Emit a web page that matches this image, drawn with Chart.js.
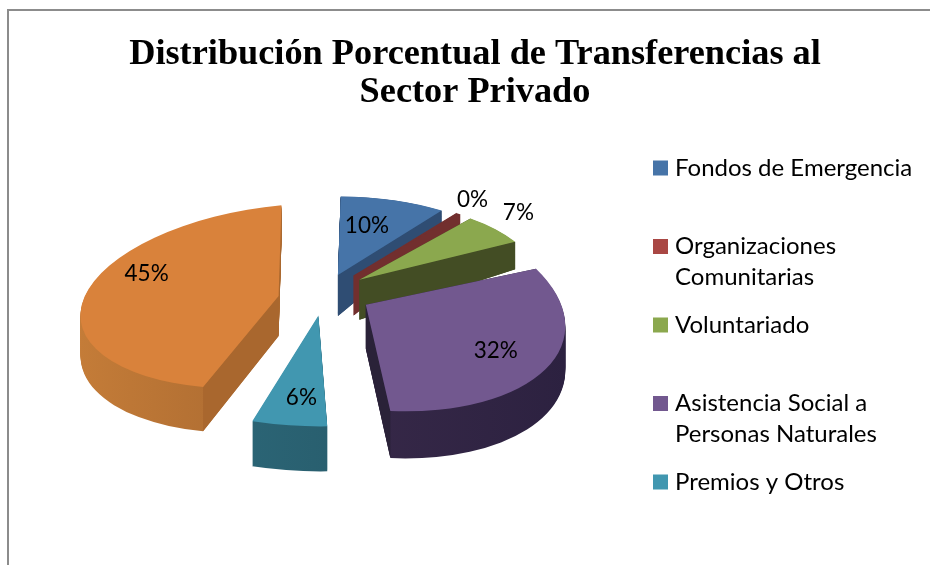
<!DOCTYPE html>
<html><head><meta charset="utf-8">
<script src="https://cdn.jsdelivr.net/npm/chart.js@4"></script>
<style>html,body{margin:0;padding:0;background:#fff}#w{width:930px;height:565px;position:relative;overflow:hidden}canvas{display:block}</style>
</head><body><div id="w"><canvas id="c" width="930" height="565"></canvas></div>
<script>
// data
const categories = ['Fondos de Emergencia','Organizaciones Comunitarias','Voluntariado','Asistencia Social a Personas Naturales','Premios y Otros','Otros'];
const values = [10, 0.4, 7, 32, 6, 45];
const valueLabels = ['10%','0%','7%','32%','6%','45%'];
const legendLines = [['Fondos de Emergencia',''],['Organizaciones','Comunitarias'],['Voluntariado',''],['Asistencia Social a','Personas Naturales'],['Premios y Otros','']];
const titleLines = ['Distribución Porcentual de Transferencias al','Sector Privado'];
// styles
const topColors = ['#4674A8','#A94744','#8BA84E','#72588F','#4197B0','#D9823B'];
const sideLeft  = ['#2F4D73','#722F2E','#434D24','#3E2E4E','#2E6E80','#C47C38'];
const sideRight = ['#2F4D73','#722F2E','#434D24','#2C2140','#24515F','#92592A'];
const faceColors= ['#2F4D73','#722F2E','#434D24','#2A2238','#2B6577','#A9672E'];
const explode = [42,48,45,47,48,47];
const reach   = [181,176,178,199,228,198];
const squash  = [.435,.44,.44,.53,.486,.46];
const shear   = [0,0,0,.07,.01,-.04];
const tilt    = [0,0,0,.07,0,-.08];
const lift    = [0,0,0,0,0,7];
const depth   = [41,40,40,44,45,40];
const grow    = [.33,.33,.33,.03,0,.05];
const showFaces = [1,1,1,1,0,1];
const drawOrder = [5,0,1,2,4,3];
const labelShift = [[29,-49],[119,-76],[159,-67],[130,46],[-17,82],[-132,-22]];

function fixOf(arc){ return 1-Math.sin(Math.min(Math.PI,arc.circumference||0)); }
function apexOf(arc,i){
  const mid=(arc.startAngle+arc.endAngle)/2, o=arc.options.offset/4, alpha=arc.endAngle-arc.startAngle;
  const ins=o*fixOf(arc)/(2*Math.PI*reach[i]);
  return {x:arc.x+Math.cos(mid)*o, y:arc.y+Math.sin(mid)*o*squash[i]+lift[i], mx:Math.cos(mid)*o, my:Math.sin(mid)*o, r:reach[i],
          inset: ins<alpha/4 ? ins : 0};
}
const pie3d = {
  id:'pie3d',
  beforeDraw(chart){
    const c=chart.ctx; c.save(); c.fillStyle='#fff'; c.fillRect(0,0,930,565);
    c.strokeStyle='#8c8c8c'; c.lineWidth=2; c.beginPath(); c.moveTo(8,565); c.lineTo(8,10); c.lineTo(930,10); c.stroke(); c.restore();
  },
  afterLayout(chart){
    const t=chart.titleBlock; t.left=20; t.right=930;
    const l=chart.legend, p=l.options.labels.padding;
    l.left=658-p; l.right=930; l.top=156-p; l.bottom=900;
  },
  afterDatasetsUpdate(chart){
    chart.getDatasetMeta(0).data.forEach((arc,i)=>{
      arc.outerRadius=reach[i]-arc.options.offset/4*fixOf(arc); arc.innerRadius=0;
    });
  },
  beforeDatasetDraw(chart){
    const c=chart.ctx, arcs=chart.getDatasetMeta(0).data;
    drawOrder.forEach(i=>{
      const arc=arcs[i], A=apexOf(arc,i), k=squash[i], sh=shear[i], b=tilt[i], D=depth[i], s=arc.startAngle+A.inset, e=arc.endAngle-A.inset;
      const g=c.createLinearGradient(-A.r,0,A.r,0); g.addColorStop(0,sideLeft[i]); g.addColorStop(1,sideRight[i]);
      for(let d=D;d>=1;d--){
        c.save(); c.translate(A.x,A.y+d); c.transform(1,b,sh,k*(1+grow[i]*d/D),0,0);
        c.fillStyle=g; c.beginPath(); c.moveTo(0,0); c.arc(0,0,A.r,s,e); c.closePath(); c.fill(); c.restore();
      }
      if(showFaces[i]){
        const pt=(ang,d)=>{const kk=k*(1+(d?grow[i]:0)); const X=Math.cos(ang)*A.r,Y=Math.sin(ang)*A.r; return [A.x+X+sh*Y, A.y+d+b*X+kk*Y];};
        c.fillStyle=faceColors[i];
        [s,e].forEach(ang=>{
          const p1=pt(ang,0),p2=pt(ang,D);
          c.beginPath(); c.moveTo(A.x,A.y); c.lineTo(p1[0],p1[1]); c.lineTo(p2[0],p2[1]); c.lineTo(A.x,A.y+D); c.closePath(); c.fill();
        });
      }
      c.save(); c.translate(A.x,A.y); c.transform(1,b,sh,k,0,0); c.translate(-(arc.x+A.mx),-(arc.y+A.my));
      arc.draw(c); c.restore();
    });
    return false;
  },
  afterDatasetsDraw(chart){
    const c=chart.ctx, arcs=chart.getDatasetMeta(0).data;
    c.save(); c.font='22.5px Lato'; c.fillStyle='#000'; c.textAlign='center'; c.textBaseline='middle';
    arcs.forEach((arc,i)=>{ const A=apexOf(arc,i); c.fillText(valueLabels[i],A.x+labelShift[i][0],A.y+labelShift[i][1]); });
    c.restore();
  }
};
new Chart(document.getElementById('c'),{
  type:'pie',
  data:{labels:categories,datasets:[{data:values,backgroundColor:topColors,borderWidth:0,offset:explode.map(v=>v*4)}]},
  options:{
    responsive:false,animation:false,
    layout:{padding:{left:0,right:280,top:0,bottom:92}},
    plugins:{
      tooltip:{enabled:false},
      title:{display:true,text:titleLines,color:'#000',padding:{top:36,bottom:0},font:{family:'Liberation Serif',size:36.3,weight:'bold',lineHeight:38/36.3}},
      legend:{position:'chartArea',align:'start',labels:{
        boxWidth:5,boxHeight:5,padding:16.5,color:'#111',font:{family:'Lato',size:24,lineHeight:31/24},
        generateLabels(){return legendLines.map((t,i)=>({text:t,fillStyle:topColors[i],strokeStyle:topColors[i],lineWidth:10,hidden:false,index:i}));}
      }}
    }
  },
  plugins:[pie3d]
});
</script></body></html>
